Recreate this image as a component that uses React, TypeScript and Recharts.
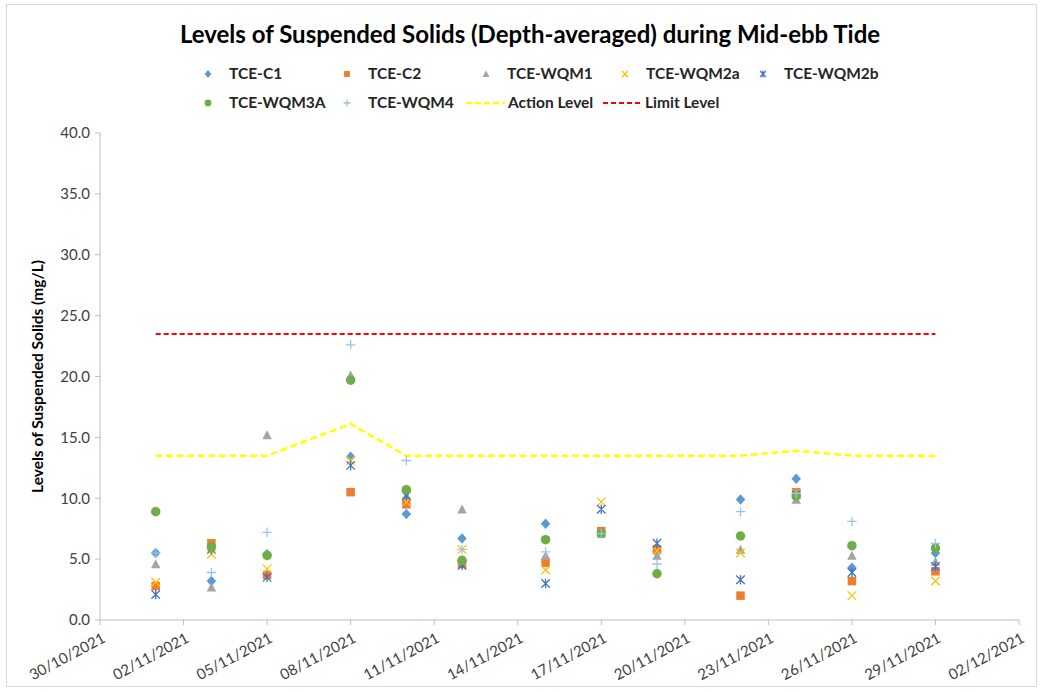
import React from 'react';
import { ComposedChart, Scatter, Line, XAxis, YAxis } from 'recharts';

// sampling dates (dd/mm/yyyy)
const sampleDates = [
  '01/11/2021', '03/11/2021', '05/11/2021', '08/11/2021', '10/11/2021', '12/11/2021', '15/11/2021',
  '17/11/2021', '19/11/2021', '22/11/2021', '24/11/2021', '26/11/2021', '29/11/2021',
];

const tickDates = [
  '30/10/2021', '02/11/2021', '05/11/2021', '08/11/2021', '11/11/2021', '14/11/2021',
  '17/11/2021', '20/11/2021', '23/11/2021', '26/11/2021', '29/11/2021', '02/12/2021',
];

const yTicks = [0, 5, 10, 15, 20, 25, 30, 35, 40];

// suspended solids, mg/L
const tceC1 = [5.5, 3.2, 5.4, 13.4, 8.7, 6.7, 7.9, 7.2, 5.6, 9.9, 11.6, 4.3, 5.5];
const tceC2 = [2.8, 6.3, 3.7, 10.5, 9.5, 4.6, 4.7, 7.3, 5.8, 2.0, 10.5, 3.2, 4.0];
const tceWqm1 = [4.6, 2.7, 15.2, 20.1, 10.2, 9.1, 5.3, 7.1, 5.3, 5.8, 9.9, 5.3, 4.8];
const tceWqm2a = [3.1, 5.4, 4.2, 13.1, 9.7, 5.8, 4.1, 9.7, 5.7, 5.5, 10.4, 2.0, 3.2];
const tceWqm2b = [2.1, 5.8, 3.5, 12.7, 10.2, 4.5, 3.0, 9.1, 6.3, 3.3, 10.3, 3.9, 4.4];
const tceWqm3a = [8.9, 6.0, 5.3, 19.7, 10.7, 4.9, 6.6, 7.1, 3.8, 6.9, 10.2, 6.1, 5.9];
const tceWqm4 = [5.5, 3.9, 7.2, 22.6, 13.1, 5.8, 5.6, 7.1, 4.6, 8.9, 10.4, 8.1, 6.3];
const actionLevel = [13.5, 13.5, 13.5, 16.1, 13.5, 13.5, 13.5, 13.5, 13.5, 13.5, 13.9, 13.5, 13.5];
const limitLevel = [23.5, 23.5, 23.5, 23.5, 23.5, 23.5, 23.5, 23.5, 23.5, 23.5, 23.5, 23.5, 23.5];

const FONT = 'Lato, "Open Sans", sans-serif';

const toTime = (s: string) => {
  const [d, m, y] = s.split('/').map(Number);
  return Date.UTC(y, m - 1, d);
};
const pad = (n: number) => String(n).padStart(2, '0');
const fmtDate = (t: number) => {
  const d = new Date(t);
  return `${pad(d.getUTCDate())}/${pad(d.getUTCMonth() + 1)}/${d.getUTCFullYear()}`;
};

const tickTimes = tickDates.map(toTime);

const rows = sampleDates.map((s, i) => ({
  t: toTime(s),
  c1: tceC1[i],
  c2: tceC2[i],
  wqm1: tceWqm1[i],
  wqm2a: tceWqm2a[i],
  wqm2b: tceWqm2b[i],
  wqm3a: tceWqm3a[i],
  wqm4: tceWqm4[i],
  action: actionLevel[i],
  limit: limitLevel[i],
}));

type Kind = 'diamond' | 'square' | 'triangle' | 'x' | 'star' | 'circle' | 'plus';

const series: { key: string; name: string; color: string; kind: Kind }[] = [
  { key: 'c1', name: 'TCE-C1', color: '#5B9BD5', kind: 'diamond' },
  { key: 'c2', name: 'TCE-C2', color: '#ED7D31', kind: 'square' },
  { key: 'wqm1', name: 'TCE-WQM1', color: '#A5A5A5', kind: 'triangle' },
  { key: 'wqm2a', name: 'TCE-WQM2a', color: '#FFC000', kind: 'x' },
  { key: 'wqm2b', name: 'TCE-WQM2b', color: '#4472C4', kind: 'star' },
  { key: 'wqm3a', name: 'TCE-WQM3A', color: '#70AD47', kind: 'circle' },
  { key: 'wqm4', name: 'TCE-WQM4', color: '#9DC3E6', kind: 'plus' },
];

const Marker = ({ kind, color, cx, cy, s = 1 }: { kind: Kind; color: string; cx: number; cy: number; s?: number }) => {
  const r = 4.75 * s;
  switch (kind) {
    case 'diamond':
      return <path d={`M${cx},${cy - r - 0.5}L${cx + r},${cy}L${cx},${cy + r + 0.5}L${cx - r},${cy}Z`} fill={color} />;
    case 'square':
      return <rect x={cx - r + 0.5} y={cy - r + 0.5} width={2 * r - 1} height={2 * r - 1} fill={color} />;
    case 'triangle':
      return <path d={`M${cx},${cy - r}L${cx + r},${cy + r - 0.5}L${cx - r},${cy + r - 0.5}Z`} fill={color} />;
    case 'circle':
      return <circle cx={cx} cy={cy} r={r} fill={color} />;
    case 'x':
      return (
        <path
          d={`M${cx - r + 0.5},${cy - r + 0.5}L${cx + r - 0.5},${cy + r - 0.5}M${cx + r - 0.5},${cy - r + 0.5}L${cx - r + 0.5},${cy + r - 0.5}`}
          stroke={color}
          strokeWidth={1.3}
        />
      );
    case 'star':
      return (
        <path
          d={`M${cx - r + 0.5},${cy - r + 0.5}L${cx + r - 0.5},${cy + r - 0.5}M${cx + r - 0.5},${cy - r + 0.5}L${cx - r + 0.5},${cy + r - 0.5}M${cx},${cy - r}L${cx},${cy + r}`}
          stroke={color}
          strokeWidth={1.3}
        />
      );
    case 'plus':
      return <path d={`M${cx - r},${cy}L${cx + r},${cy}M${cx},${cy - r}L${cx},${cy + r}`} stroke={color} strokeWidth={1.3} />;
  }
  return null;
};

const DateTick = ({ x, y, payload }: any) => (
  <g transform={`translate(${x + 4},${y + 10})`}>
    <text
      transform="rotate(-28)"
      textAnchor="end"
      fontFamily={FONT}
      fontSize={15}
      fill="#404040"
      dy={5}
    >
      {fmtDate(payload.value)}
    </text>
  </g>
);

// legend grid: columns 139px apart, marker then label
const legendCols = [208, 347, 486, 625, 763];
const legendRowY = [74, 103];

const legendText: React.CSSProperties = {
  fontFamily: FONT,
  fontWeight: 700,
  fontSize: 15.5,
  fill: '#262626',
};

const ChartLegend = () => (
  <svg width={1041} height={130} style={{ position: 'absolute', left: 0, top: 0, pointerEvents: 'none' }}>
    <text x={530} y={43} textAnchor="middle" style={{ fontFamily: FONT, fontWeight: 700, fontSize: 24, fill: '#000' }}>
      Levels of Suspended Solids (Depth-averaged) during Mid-ebb Tide
    </text>
    {series.map((sr, i) => {
      const mx = legendCols[i % 5];
      const cy = legendRowY[Math.floor(i / 5)];
      return (
        <g key={sr.key}>
          <Marker kind={sr.kind} color={sr.color} cx={mx} cy={cy} s={0.72} />
          <text x={mx + 21} y={cy + 5} style={legendText}>
            {sr.name}
          </text>
        </g>
      );
    })}
    <line x1={466} x2={505} y1={103} y2={103} stroke="#FFFF00" strokeWidth={2.5} strokeDasharray="6 3" />
    <text x={508} y={108} style={legendText}>
      Action Level
    </text>
    <line x1={603} x2={642} y1={103} y2={103} stroke="#FF0000" strokeWidth={2} strokeDasharray="5 3" />
    <text x={645} y={108} style={legendText}>
      Limit Level
    </text>
  </svg>
);

export default function App() {
  return (
    <div style={{ position: 'absolute', left: 0, top: 0, width: 1041, height: 692, background: '#fff' }}>
      <div
        style={{
          position: 'absolute',
          left: 6,
          top: 4,
          width: 1029,
          height: 681,
          border: '1px solid #D9D9D9',
        }}
      />
      <ComposedChart
        width={1041}
        height={692}
        data={rows}
        margin={{ top: 133, right: 22, bottom: 22, left: 40 }}
      >
        <XAxis
          dataKey="t"
          type="number"
          domain={[tickTimes[0], tickTimes[tickTimes.length - 1]]}
          ticks={tickTimes}
          interval={0}
          height={50}
          tick={<DateTick />}
          tickSize={5}
          axisLine={{ stroke: '#BFBFBF' }}
          tickLine={{ stroke: '#BFBFBF' }}
          allowDataOverflow
        />
        <YAxis
          type="number"
          domain={[0, 40]}
          ticks={yTicks}
          interval={0}
          width={60}
          tickSize={5}
          tickMargin={5}
          tickFormatter={(v: number) => v.toFixed(1)}
          tick={{ fontFamily: FONT, fontSize: 15, fill: '#404040' }}
          axisLine={{ stroke: '#BFBFBF' }}
          tickLine={{ stroke: '#BFBFBF' }}
          label={(props: any) => {
            const vb = props.viewBox || { x: 40, y: 133, width: 60, height: 487 };
            const cx = 37;
            const cy = vb.y + vb.height / 2;
            return (
              <text
                x={cx}
                y={cy}
                transform={`rotate(-90, ${cx}, ${cy})`}
                textAnchor="middle"
                dominantBaseline="central"
                style={{ fontFamily: FONT, fontWeight: 700, fontSize: 15.5, fill: '#000' }}
              >
                Levels of Suspended Solids (mg/L)
              </text>
            );
          }}
        />
        {series.map((sr) => (
          <Scatter
            key={sr.key}
            name={sr.name}
            dataKey={sr.key}
            fill={sr.color}
            isAnimationActive={false}
            shape={(p: any) => <Marker kind={sr.kind} color={sr.color} cx={p.cx} cy={p.cy} />}
          />
        ))}
        <Line
          type="linear"
          dataKey="action"
          name="Action Level"
          stroke="#FFFF00"
          strokeWidth={2.5}
          strokeDasharray="7 3.5"
          dot={false}
          activeDot={false}
          isAnimationActive={false}
        />
        <Line
          type="linear"
          dataKey="limit"
          name="Limit Level"
          stroke="#FF0000"
          strokeWidth={2}
          strokeDasharray="5 3"
          dot={false}
          activeDot={false}
          isAnimationActive={false}
        />
      </ComposedChart>
      <ChartLegend />
    </div>
  );
}
